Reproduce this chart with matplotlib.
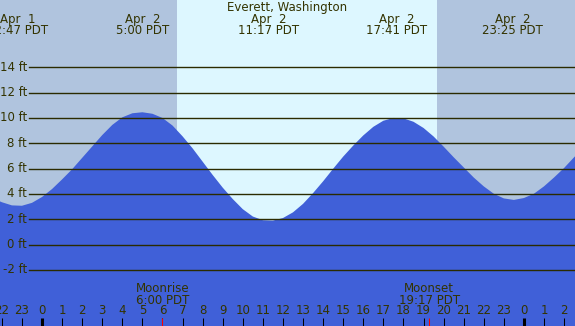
"""
Tide chart: Everett, Washington, Apr 2.
"""

import matplotlib
matplotlib.use('Agg')

import matplotlib.pyplot as plt
import matplotlib.transforms as mtransforms
import numpy as np

# Tide height (ft), read every half hour, hours counted from midnight Apr 2
tide_hours = np.arange(-2.5, 27.5, 0.5)
tide_feet = [
    3.70, 3.35, 3.10, 3.07, 3.30,
    3.76, 4.39, 5.15, 5.95, 6.85, 7.75, 8.65, 9.45, 10.05, 10.37, 10.45,
    10.33, 10.00, 9.40, 8.55, 7.60, 6.55, 5.50, 4.50, 3.60, 2.80, 2.22, 1.93, 1.90,
    2.10, 2.55, 3.22, 4.07, 5.00, 5.99, 6.95, 7.82, 8.62, 9.30, 9.78, 10.00,
    9.97, 9.70, 9.21, 8.54, 7.74, 6.90, 6.10, 5.30, 4.60, 4.02, 3.65, 3.53,
    3.68, 4.02, 4.60, 5.30, 6.05, 6.90, 7.70,
]

# High / low tide labels
event_hours = [-1.22, 5.0, 11.28, 17.68, 23.42]
event_days = ["Apr  1", "Apr  2", "Apr  2", "Apr  2", "Apr  2"]
event_times = ["22:47 PDT", "5:00 PDT", "11:17 PDT", "17:41 PDT", "23:25 PDT"]

sunrise = 6.71
sunset = 19.67

moon_hours = [6.0, 19.28]
moon_names = ["Moonrise", "Moonset"]
moon_times = ["6:00 PDT", "19:17 PDT"]

grid_feet = [-2, 0, 2, 4, 6, 8, 10, 12, 14]
hour_ticks = np.arange(-2, 27)

TEXT = "#333300"
NIGHT = "#b0c4de"
DAY = "#ddf7ff"
WATER = "#4060d8"

W, H = 575, 326
fig = plt.figure(figsize=(W / 100, H / 100), dpi=100)
ax = fig.add_axes([0, 0, 1, 1])
x0, x1 = -2.092, 26.544
ax.set_xlim(x0, x1)
ax.set_ylim(-6.42, 19.31)
ax.axis('off')

ax.axvspan(x0, sunrise, color=NIGHT, lw=0, zorder=0)
ax.axvspan(sunrise, sunset, color=DAY, lw=0, zorder=0)
ax.axvspan(sunset, x1, color=NIGHT, lw=0, zorder=0)

ax.fill_between(tide_hours, tide_feet, -10, color=WATER, lw=0, zorder=1)

for ft in grid_feet:
    ax.axhline(ft, xmin=29 / W, xmax=1, color="#2b2b00", lw=1.0, zorder=2)
    ax.text(27 / W, ft, f"{ft} ft", transform=mtransforms.blended_transform_factory(ax.transAxes, ax.transData),
            ha="right", va="center", fontsize=8.5, color=TEXT, zorder=3)

top = mtransforms.blended_transform_factory(ax.transData, ax.transAxes)

def fy(px):
    return 1 - px / H

ax.text(0.5, fy(8), "Everett, Washington", transform=ax.transAxes,
        ha="center", va="center", fontsize=8.5, color=TEXT)
for h, d, t in zip(event_hours, event_days, event_times):
    ax.text(h, fy(20), d, transform=top, ha="center", va="center", fontsize=8.5, color=TEXT)
    ax.text(h, fy(31), t, transform=top, ha="center", va="center", fontsize=8.5, color=TEXT)

for h, n, t in zip(moon_hours, moon_names, moon_times):
    ax.text(h, fy(288), n, transform=top, ha="center", va="center", fontsize=8.5, color=TEXT)
    ax.text(h, fy(300), t, transform=top, ha="center", va="center", fontsize=8.5, color=TEXT)

for h in hour_ticks:
    ax.text(h, fy(311), str(h % 24), transform=top, ha="center", va="center",
            fontsize=8.5, color=TEXT)
    lw = 2.2 if h % 24 == 0 else 0.75
    ax.plot([h, h], [0, fy(318)], transform=top, color="black", lw=lw,
            solid_capstyle="butt", zorder=4)

for h in moon_hours:
    ax.plot([h, h], [0, fy(318)], transform=top, color="red", lw=0.75,
            solid_capstyle="butt", zorder=5)

fig.savefig('out.png', dpi=100)
